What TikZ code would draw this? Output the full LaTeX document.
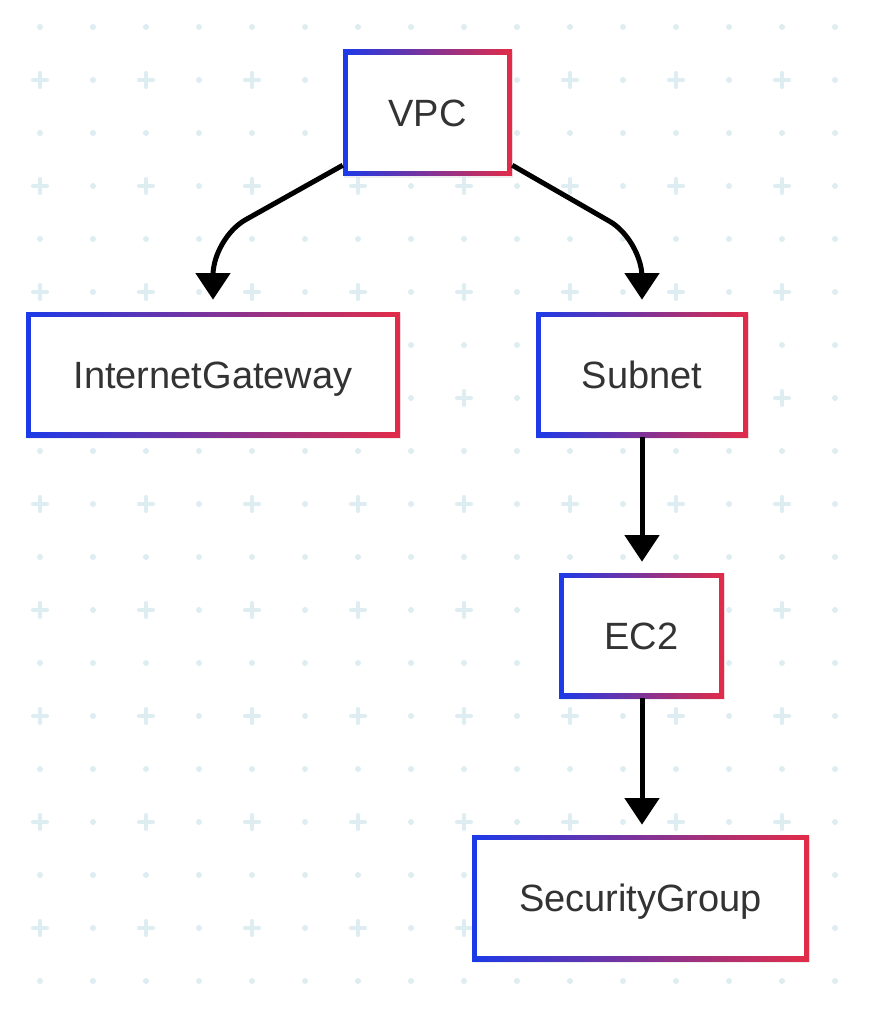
\documentclass[tikz,border=0pt]{standalone}
\usepackage{fontspec}
\setmainfont{Liberation Sans}
\usetikzlibrary{arrows.meta,shadows}
\definecolor{gblue}{RGB}{28,58,232}
\definecolor{gred}{RGB}{226,44,72}
\definecolor{txt}{RGB}{51,51,51}
\definecolor{pat}{RGB}{222,237,241}
\tikzset{
  box/.style={rectangle, inner sep=0pt, shade, left color=gblue, right color=gred,
    text=txt, font=\fontsize{28.5}{34}\selectfont, text height=20.4pt, text depth=0pt,
    drop shadow={opacity=0.12, shadow xshift=1pt, shadow yshift=-1.5pt},
    path picture={\fill[white] ([shift={(3.75pt,-3.75pt)}]path picture bounding box.north west)
      rectangle ([shift={(-3.75pt,3.75pt)}]path picture bounding box.south east);}},
  conn/.style={line width=3.75pt, black, -{Triangle[width=25.5pt,length=20pt]}},
  patdot/.style={fill=pat},
  patcross/.style={draw=pat, line width=3pt, line cap=round}
}
\begin{document}
\begin{tikzpicture}[x=0.75pt,y=-0.75pt]
\useasboundingbox (0,0) rectangle (872,1012);
\fill[white] (0,0) rectangle (872,1012);
% background pattern
\foreach \k in {0,...,18}{
  \foreach \j in {0,...,15}{
    \pgfmathsetmacro{\px}{40+53*\j}
    \pgfmathsetmacro{\py}{27+53*\k}
    \ifodd\k\relax
      \ifodd\j\relax
        \fill[patdot] (\px,\py) circle[radius=2.25pt];
      \else
        \draw[patcross] (\px-7,\py) -- (\px+7,\py) (\px,\py-7) -- (\px,\py+7);
      \fi
    \else
      \fill[patdot] (\px,\py) circle[radius=2.25pt];
    \fi
  }
}
% nodes
\node[box, minimum width=126.75pt, minimum height=94.5pt] (vpc) at (427.5,113) {VPC};
\node[box, minimum width=280.5pt, minimum height=93.75pt] (ig) at (213,374.5) {InternetGateway};
\node[box, minimum width=159pt, minimum height=93.75pt] (subnet) at (642,374.5) {Subnet};
\node[box, minimum width=123.75pt, minimum height=93.75pt] (ec2) at (641.5,635.5) {EC2};
\node[box, minimum width=252.75pt, minimum height=94.5pt] (sg) at (640.5,898) {SecurityGroup};
% connectors
\draw[conn, rounded corners=28pt] ([yshift=8.25pt]vpc.south west) -- (ig.north |- 0,238) -- ([yshift=9pt]ig.north);
\draw[conn, rounded corners=28pt] ([yshift=8.25pt]vpc.south east) -- (subnet.north |- 0,240) -- ([yshift=9pt]subnet.north);
\draw[conn] (subnet.south) -- ([yshift=8.25pt]subnet.south |- ec2.north);
\draw[conn] (subnet.south |- ec2.south) -- ([yshift=7.5pt]subnet.south |- sg.north);
\end{tikzpicture}
\end{document}
